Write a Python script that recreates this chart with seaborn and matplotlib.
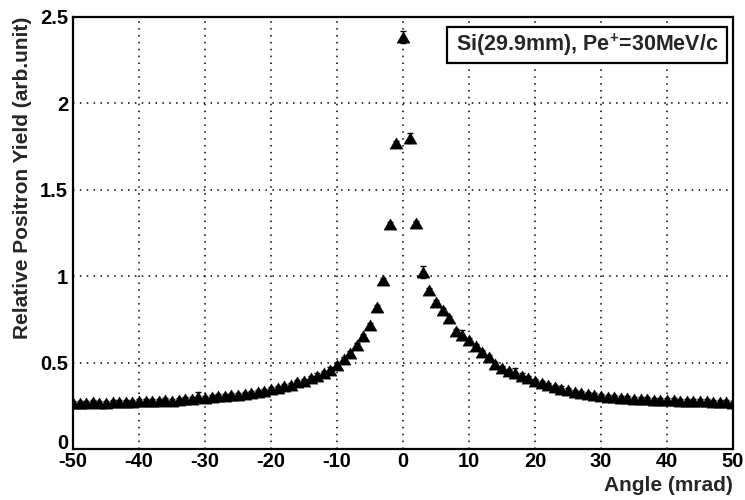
import numpy as np
import pandas as pd
import matplotlib
matplotlib.use("Agg")
import matplotlib.pyplot as plt
from matplotlib.ticker import MultipleLocator, FixedLocator
from matplotlib.patches import Rectangle
import seaborn as sns

# ---------------- data ----------------
angle_mrad = list(range(-50, 51))
yield_left = [0.265, 0.268, 0.266, 0.270, 0.268, 0.267, 0.272, 0.270, 0.274, 0.273,
              0.275, 0.277, 0.276, 0.279, 0.281, 0.280, 0.284, 0.287, 0.290, 0.300,
              0.297, 0.300, 0.304, 0.308, 0.310, 0.312, 0.317, 0.324, 0.330, 0.338,
              0.345, 0.352, 0.362, 0.372, 0.385, 0.395,
              0.410, 0.425, 0.440, 0.460, 0.488, 0.520, 0.558, 0.600, 0.655, 0.720,
              0.820, 0.980, 1.300, 1.770]
yield_center = [2.385]
yield_right = [1.800, 1.310, 1.025, 0.920, 0.850, 0.805, 0.760, 0.685, 0.660, 0.630,
               0.595, 0.560, 0.530, 0.490, 0.470, 0.450, 0.440, 0.425, 0.410, 0.392,
               0.380, 0.370, 0.360, 0.350, 0.340, 0.332, 0.325, 0.318, 0.312, 0.306,
               0.302, 0.299, 0.296, 0.293, 0.291, 0.289, 0.287, 0.285, 0.284, 0.282,
               0.281, 0.279, 0.278, 0.277, 0.276, 0.275, 0.274, 0.274, 0.272, 0.266]
rel_yield = yield_left + yield_center + yield_right
yield_err = [0.012] * 101
for a, e in [(0, 0.035), (1, 0.03), (3, 0.035), (9, 0.03), (17, 0.03), (-31, 0.03)]:
    yield_err[a + 50] = e

x_ticks = [-50, -40, -30, -20, -10, 0, 10, 20, 30, 40, 50]
y_ticks = [0, 0.5, 1, 1.5, 2, 2.5]
y_tick_labels = ["0", "0.5", "1", "1.5", "2", "2.5"]
legend_text = "Si(29.9mm), Pe$^{+}$=30MeV/c"

df = pd.DataFrame({"angle": angle_mrad, "yield": rel_yield, "err": yield_err})

# ---------------- style ----------------
sns.set_theme(style="white")
plt.rcParams["font.family"] = ["Liberation Sans", "DejaVu Sans"]
plt.rcParams["font.weight"] = "bold"
plt.rcParams["axes.unicode_minus"] = False
plt.rcParams["mathtext.fontset"] = "custom"
plt.rcParams["mathtext.rm"] = "Liberation Sans:bold"
plt.rcParams["mathtext.bf"] = "Liberation Sans:bold"
plt.rcParams["mathtext.it"] = "Liberation Sans:bold"

fig = plt.figure(figsize=(7.45, 5.0), dpi=100)
L, R, T, B = 73, 733, 17, 449
ax = fig.add_axes([L / 745, 1 - B / 500, (R - L) / 745, (B - T) / 500])

tri = [(-1.0, -0.866), (1.0, -0.866), (0.0, 0.866), (-1.0, -0.866)]

ax.errorbar(df["angle"], df["yield"], yerr=df["err"], fmt="none",
            ecolor="black", elinewidth=1.0, capsize=2.5, capthick=1.0, zorder=2)
sns.scatterplot(data=df, x="angle", y="yield", marker=tri, s=88,
                color="black", edgecolor="black", linewidth=0.3, ax=ax, zorder=3)

ax.set_xlim(-50, 50)
ax.set_ylim(0, 2.5)
ax.xaxis.set_major_locator(FixedLocator(x_ticks))
ax.xaxis.set_minor_locator(MultipleLocator(2))
ax.yaxis.set_major_locator(FixedLocator(y_ticks))
ax.set_yticklabels(y_tick_labels)
ax.yaxis.set_minor_locator(MultipleLocator(0.1))

ax.tick_params(axis="both", which="both", direction="in", color="black",
               labelsize=14.5, labelcolor="black")
ax.tick_params(axis="x", which="major", length=11, width=1.0, pad=2.5)
ax.tick_params(axis="x", which="minor", length=5.5, width=1.0)
ax.tick_params(axis="y", which="major", length=14, width=1.0, pad=3.5)
ax.tick_params(axis="y", which="minor", length=7, width=1.0)
for lab in ax.get_xticklabels() + ax.get_yticklabels():
    lab.set_fontweight("bold")
# the "0" on the y axis sits a little above the axis corner in the reference
ax.get_yticklabels()[0].set_verticalalignment("baseline")

ax.grid(True, which="major", color="black", linestyle=(0, (1, 3.5)), linewidth=1.1)
for s in ax.spines.values():
    s.set_visible(True)
    s.set_color("black")
    s.set_linewidth(1.6)

ax.set_xlabel("Angle (mrad)", loc="right", fontsize=15, fontweight="bold", labelpad=3)
ax.set_ylabel("Relative Positron Yield (arb.unit)", loc="top", fontsize=15,
              fontweight="bold", labelpad=6)

# legend box
x0 = (447 - L) / (R - L); x1 = (727 - L) / (R - L)
y0 = (B - 63) / (B - T); y1 = (B - 27) / (B - T)
ax.add_patch(Rectangle((x0, y0), x1 - x0, y1 - y0, transform=ax.transAxes,
                       facecolor="white", edgecolor="black", linewidth=1.6, zorder=5))
ax.text((x0 + x1) / 2, (y0 + y1) / 2, legend_text, transform=ax.transAxes,
        ha="center", va="center", fontsize=15.5, fontweight="bold", zorder=6)

fig.savefig("out.png", dpi=100, facecolor="white")
